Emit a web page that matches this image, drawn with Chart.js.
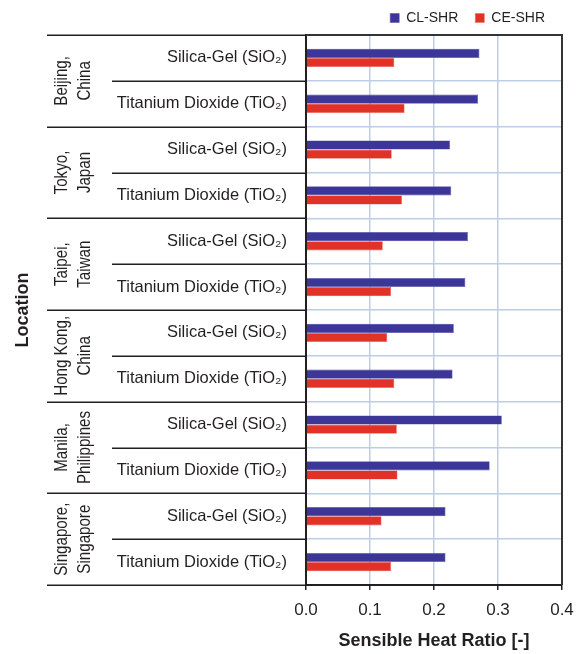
<!DOCTYPE html>
<html>
<head>
<meta charset="utf-8">
<script src="https://cdn.jsdelivr.net/npm/chart.js@4.4.1/dist/chart.umd.min.js"></script>
<style>
  html, body { margin: 0; padding: 0; background: #ffffff; }
  #wrap { width: 576px; height: 654px; position: relative; }
</style>
</head>
<body>
<div id="wrap"><canvas id="c" width="576" height="654"></canvas></div>
<script>
// Locations (each has two desiccant rows)
const locations = [
  ['Beijing,', 'China'],
  ['Tokyo,', 'Japan'],
  ['Taipei,', 'Taiwan'],
  ['Hong Kong,', 'China'],
  ['Manila,', 'Philippines'],
  ['Singapore,', 'Singapore']
];

// Row labels, one per bar pair
const categories = [
  'Silica-Gel (SiO\u2082)', 'Titanium Dioxide (TiO\u2082)',
  'Silica-Gel (SiO\u2082)', 'Titanium Dioxide (TiO\u2082)',
  'Silica-Gel (SiO\u2082)', 'Titanium Dioxide (TiO\u2082)',
  'Silica-Gel (SiO\u2082)', 'Titanium Dioxide (TiO\u2082)',
  'Silica-Gel (SiO\u2082)', 'Titanium Dioxide (TiO\u2082)',
  'Silica-Gel (SiO\u2082)', 'Titanium Dioxide (TiO\u2082)'
];

// Sensible heat ratio values
const clShr = [0.271, 0.269, 0.225, 0.227, 0.253, 0.249, 0.231, 0.229, 0.306, 0.287, 0.218, 0.218];
const ceShr = [0.138, 0.154, 0.134, 0.150, 0.120, 0.133, 0.127, 0.138, 0.142, 0.143, 0.118, 0.133];

const xTicks = [0.0, 0.1, 0.2, 0.3, 0.4];

const INK = '#231f20';
const GRID = '#bccde6';
const FONT = "'Liberation Sans', Arial, Helvetica, sans-serif";

// Fixed legend band height at the top
const legendHeight = {
  id: 'legendHeight',
  beforeInit(chart) {
    const fit = chart.legend.fit;
    chart.legend.fit = function () {
      fit.bind(chart.legend)();
      this.height = 41;
    };
  }
};

// Location bands on the left, row separators and the plot frame
const locationBands = {
  id: 'locationBands',
  afterDraw(chart) {
    const { ctx, chartArea: a, scales } = chart;
    const y = scales.y;
    const step = y.getPixelForValue(1) - y.getPixelForValue(0);
    const edge = (i) => y.getPixelForValue(0) - step / 2 + i * step;
    ctx.save();
    ctx.strokeStyle = INK;
    ctx.lineWidth = 1.5;
    for (let i = 0; i <= categories.length; i++) {
      const py = Math.round(edge(i)) + 0.25;
      const x0 = (i % 2 === 0) ? 47 : 112;
      ctx.beginPath();
      ctx.moveTo(x0, py);
      ctx.lineTo(a.left, py);
      ctx.stroke();
    }
    // top and right frame of the plot
    ctx.lineWidth = 2;
    ctx.strokeStyle = '#333436';
    ctx.beginPath();
    ctx.moveTo(a.left, a.top);
    ctx.lineTo(a.right, a.top);
    ctx.lineTo(a.right, a.bottom);
    ctx.stroke();

    // rotated location names, set slightly condensed
    ctx.fillStyle = INK;
    ctx.font = "18px " + FONT;
    ctx.textAlign = 'center';
    ctx.textBaseline = 'alphabetic';
    locations.forEach((loc, g) => {
      const cy = (edge(2 * g) + edge(2 * g + 2)) / 2;
      ctx.save();
      ctx.translate(0, cy);
      ctx.rotate(-Math.PI / 2);
      ctx.scale(0.84, 1);
      ctx.fillText(loc[0], 0, 67);
      ctx.fillText(loc[1], 0, 90);
      ctx.restore();
    });

    // axis title for the location bands
    ctx.save();
    ctx.font = "bold 18px " + FONT;
    ctx.translate(0, (a.top + a.bottom) / 2);
    ctx.rotate(-Math.PI / 2);
    ctx.textBaseline = 'middle';
    ctx.fillText('Location', 0, 23);
    ctx.restore();
    ctx.restore();
  }
};

new Chart(document.getElementById('c'), {
  type: 'bar',
  data: {
    labels: categories,
    datasets: [
      { label: 'CL-SHR', data: clShr, backgroundColor: '#3b3698', borderColor: '#5a55ad', borderWidth: 0.6 },
      { label: 'CE-SHR', data: ceShr, backgroundColor: '#e13228', borderColor: '#ea6a62', borderWidth: 0.6 }
    ]
  },
  options: {
    indexAxis: 'y',
    responsive: false,
    animation: false,
    devicePixelRatio: 1,
    categoryPercentage: 0.4,
    barPercentage: 1.0,
    layout: { padding: { top: -6, right: 14, bottom: 0, left: 0 } },
    plugins: {
      legend: {
        position: 'top',
        align: 'end',
        labels: {
          boxWidth: 9,
          boxHeight: 9,
          padding: 17,
          color: INK,
          font: { family: FONT, size: 14 }
        }
      },
      tooltip: { enabled: false }
    },
    scales: {
      x: {
        min: 0,
        max: 0.4,
        afterFit(scale) {
          scale.height = 69;
          scale.paddingRight = 0;
          scale.paddingLeft = 0;
        },
        afterBuildTicks(scale) { scale.ticks = xTicks.map(v => ({ value: v })); },
        ticks: {
          color: INK,
          padding: 10,
          font: { family: FONT, size: 17 },
          callback: (v) => Number(v).toFixed(1)
        },
        grid: { color: GRID, lineWidth: 1.5, tickColor: INK, tickLength: 5, tickWidth: 1.5 },
        border: { color: INK, width: 2 },
        title: {
          display: true,
          text: 'Sensible Heat Ratio [-]',
          color: INK,
          font: { family: FONT, size: 18, weight: 'bold' },
          padding: { top: 4, bottom: 2 }
        }
      },
      y: {
        afterFit(scale) { scale.width = 306; },
        ticks: {
          color: INK,
          padding: 19,
          font: { family: FONT, size: 16.5 }
        },
        grid: { color: GRID, lineWidth: 1.5, offset: true, drawTicks: false },
        border: { color: INK, width: 2 }
      }
    }
  },
  plugins: [legendHeight, locationBands]
});
</script>
</body>
</html>
